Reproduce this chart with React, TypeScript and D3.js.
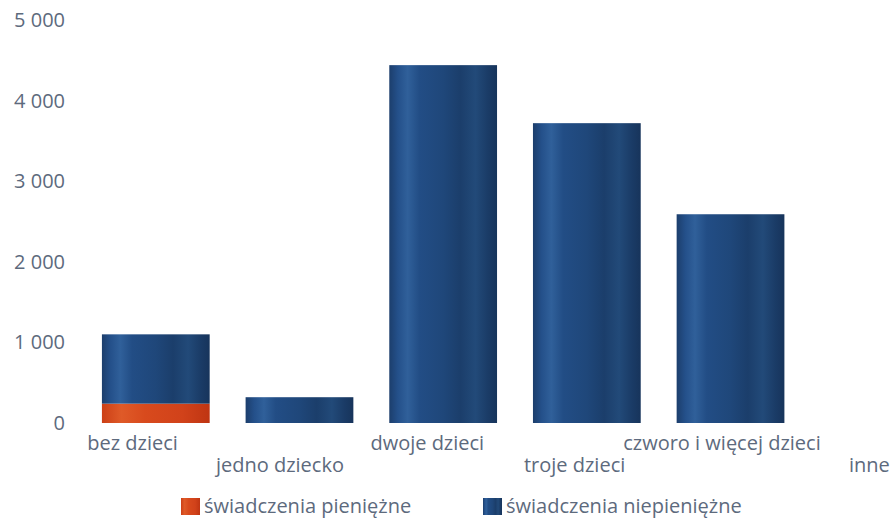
import React from "react";
import * as d3 from "d3";

const categories = ["bez dzieci", "jedno dziecko", "dwoje dzieci", "troje dzieci", "czworo i więcej dzieci", "inne"];
const pieniezne = [240, 0, 0, 0, 0, 0];
const niepieniezne = [860, 320, 4440, 3720, 2590, 0];
const yTicks = [0, 1000, 2000, 3000, 4000, 5000];
const seriesNames = ["świadczenia pieniężne", "świadczenia niepieniężne"];

const W = 894;
const H = 519;
const FONT = "'Open Sans', 'DejaVu Sans', sans-serif";
const TEXT = "#5d6a7d";

export default function App() {
  const x = d3.scaleBand<string>().domain(categories).range([66, 964]).paddingInner(0.25).paddingOuter(0.25);
  const xl = d3.scalePoint<string>().domain(categories).range([132.6, 869.3]);
  const y = d3.scaleLinear().domain([0, 5000]).range([423, 20]);
  const fmt = (v: number) => d3.format(",")(v).replace(/,/g, " ");

  const rows = categories.map((c, i) => ({ c, p: pieniezne[i], n: niepieniezne[i], i }));

  return (
    <svg width={W} height={H} style={{ position: "absolute", left: 0, top: 0, background: "#fff" }} fontFamily={FONT}>
      <defs>
        <linearGradient id="gBlue" x1="0" x2="1" y1="0" y2="0">
          <stop offset="0" stopColor="#1c3e6c" />
          <stop offset="0.08" stopColor="#24508a" />
          <stop offset="0.17" stopColor="#30609a" />
          <stop offset="0.28" stopColor="#224d85" />
          <stop offset="0.5" stopColor="#1f477a" />
          <stop offset="0.66" stopColor="#1b3e6b" />
          <stop offset="0.8" stopColor="#224a79" />
          <stop offset="0.92" stopColor="#1a3b66" />
          <stop offset="1" stopColor="#17345b" />
        </linearGradient>
        <linearGradient id="gOrange" x1="0" x2="1" y1="0" y2="0">
          <stop offset="0" stopColor="#cc3f16" />
          <stop offset="0.18" stopColor="#df5a28" />
          <stop offset="0.4" stopColor="#d84a1d" />
          <stop offset="0.75" stopColor="#d1421a" />
          <stop offset="1" stopColor="#bf3512" />
        </linearGradient>
      </defs>

      {yTicks.map((t) => (
        <text key={t} x={65} y={y(t)} dy="0.35em" textAnchor="end" fontSize={20} fill={TEXT}>
          {fmt(t)}
        </text>
      ))}

      {rows.map((r) => {
        const bx = x(r.c)!;
        const bw = x.bandwidth();
        return (
          <g key={r.c}>
            {r.p > 0 && (
              <rect x={bx} width={bw} y={y(r.p)} height={y(0) - y(r.p)} fill="url(#gOrange)" />
            )}
            {r.n > 0 && (
              <rect x={bx} width={bw} y={y(r.p + r.n)} height={y(r.p) - y(r.p + r.n)} fill="url(#gBlue)" />
            )}
          </g>
        );
      })}

      {rows.map((r) => (
        <text
          key={"l" + r.c}
          x={xl(r.c)!}
          y={r.i % 2 === 0 ? 450 : 472}
          textAnchor="middle"
          fontSize={20}
          fill={TEXT}
        >
          {r.c}
        </text>
      ))}

      <g>
        <rect x={181} y={498} width={19} height={17} fill="url(#gOrange)" />
        <text x={204} y={513} fontSize={20} fill={TEXT}>{seriesNames[0]}</text>
        <rect x={483} y={498} width={19} height={17} fill="url(#gBlue)" />
        <text x={506} y={513} fontSize={20} fill={TEXT}>{seriesNames[1]}</text>
      </g>
    </svg>
  );
}
